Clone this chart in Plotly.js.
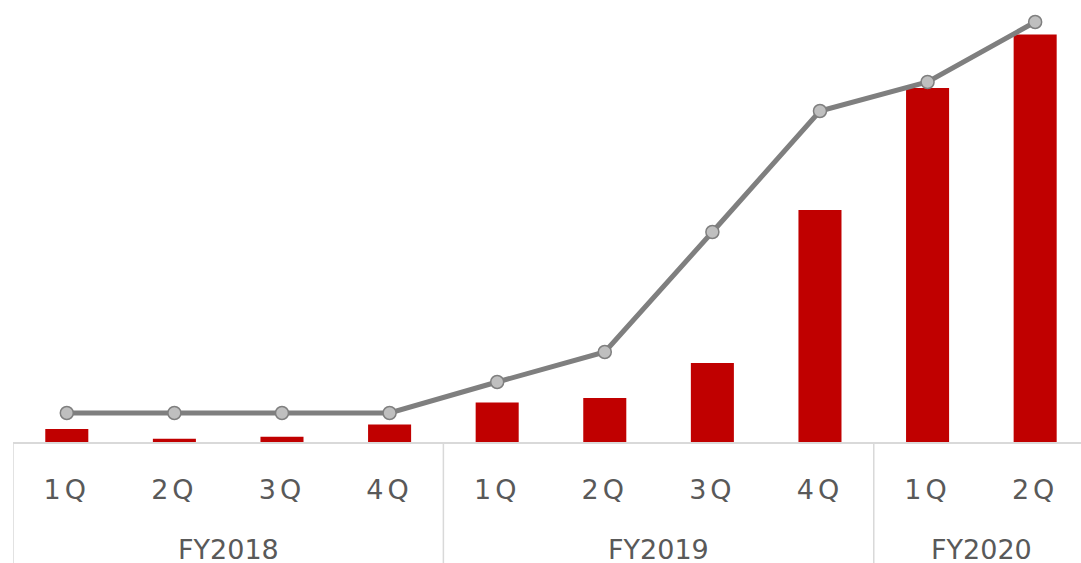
<!DOCTYPE html>
<html>
<head>
<meta charset="utf-8">
<script src="https://cdn.plot.ly/plotly-3.0.1.min.js"></script>
<style>
html,body{margin:0;padding:0;background:#fff;overflow:hidden;}
#chart .xtick text{letter-spacing:4px;}
</style>
</head>
<body>
<div id="chart" style="width:1081px;height:563px;"></div>
<script>
// Data
const years = ["FY2018","FY2018","FY2018","FY2018","FY2019","FY2019","FY2019","FY2019","FY2020","FY2020"];
const quarters = ["1Q","2Q","3Q","4Q","1Q","2Q","3Q","4Q","1Q","2Q"];
const barValues = [13, 3.3, 5.3, 17.5, 39.6, 44, 79, 232, 354, 407.5];
const lineValues = [29, 29, 29, 29, 60, 90, 210, 331, 360, 420];
const yearGroups = ["FY2018","FY2019","FY2020"];

const idx = quarters.map((q, i) => i);

const bar = {
  type: 'bar', x: idx, y: barValues,
  marker: {color: '#C00000'}, width: 0.4,
  hoverinfo: 'skip', showlegend: false
};
const line = {
  type: 'scatter', mode: 'lines+markers', x: idx, y: lineValues,
  line: {color: '#7F7F7F', width: 5},
  marker: {size: 13, color: '#BFBFBF', line: {color: '#7F7F7F', width: 1.5}},
  cliponaxis: false, hoverinfo: 'skip', showlegend: false
};

const shapes = [];
const annotations = [];
const gridColor = '#D9D9D9';
yearGroups.forEach(g => {
  const members = idx.filter(i => years[i] === g);
  const first = members[0], last = members[members.length - 1];
  shapes.push({type: 'line', xref: 'x', yref: 'paper', x0: first - 0.5, x1: first - 0.5,
    y0: 0, y1: -0.28, line: {color: gridColor, width: 1.5}});
  if (g === yearGroups[yearGroups.length - 1]) {
    shapes.push({type: 'line', xref: 'x', yref: 'paper', x0: last + 0.5, x1: last + 0.5,
      y0: 0, y1: -0.28, line: {color: gridColor, width: 1.5}});
  }
  annotations.push({text: g, xref: 'x', yref: 'paper', x: (first + last) / 2, y: 0,
    yshift: -107, yanchor: 'middle', xanchor: 'center', showarrow: false,
    font: {family: 'DejaVu Sans, Verdana, sans-serif', size: 27, color: '#595959'}});
});

const layout = {
  width: 1081, height: 563,
  margin: {l: 13, r: 0, t: 0, b: 121},
  paper_bgcolor: '#ffffff', plot_bgcolor: '#ffffff',
  xaxis: {
    range: [-0.5, 9.426], tickmode: 'array', tickvals: idx, ticktext: quarters,
    showgrid: false, zeroline: false, showline: true, linecolor: gridColor, linewidth: 1.5,
    ticks: '', ticklabelstandoff: 23,
    tickfont: {family: 'DejaVu Sans, Verdana, sans-serif', size: 27, color: '#595959'}
  },
  yaxis: {range: [0, 442], visible: false, showgrid: false, zeroline: false},
  shapes: shapes, annotations: annotations,
  bargap: 0.6
};

Plotly.newPlot('chart', [bar, line], layout, {displayModeBar: false, staticPlot: true});
</script>
</body>
</html>
